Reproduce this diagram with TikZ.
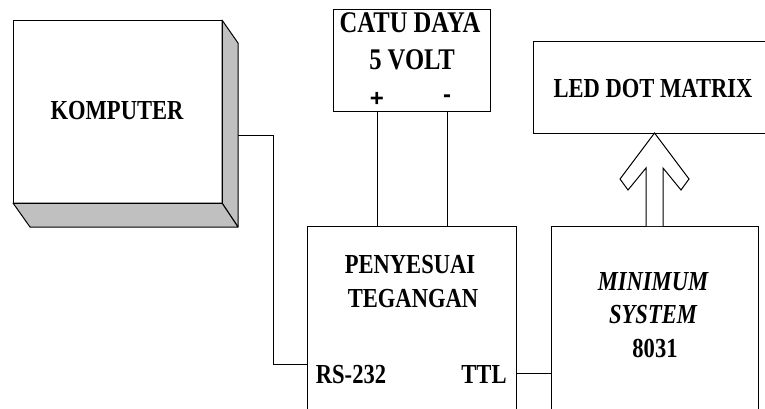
\documentclass[tikz,border=0pt]{standalone}
\usepackage{fontspec}
\setmainfont{Liberation Serif}[FakeStretch=0.82]
\newfontfamily\plusfont{Liberation Sans}
\begin{document}
\begin{tikzpicture}[x=1pt,y=-1pt,
  box/.style={draw,line width=1pt,inner sep=0pt,anchor=north west},
  wire/.style={draw,line width=1pt},
  lbl/.style={anchor=base,inner sep=0pt,font=\fontsize{27.5}{30}\selectfont\bfseries},
  biglbl/.style={anchor=base,inner sep=0pt,font=\fontsize{30}{32}\selectfont\bfseries},
  ilbl/.style={anchor=base,inner sep=0pt,font=\fontsize{27.5}{30}\selectfont\bfseries\itshape},
  sgn/.style={anchor=center,inner sep=0pt,font=\fontsize{24}{26}\selectfont\plusfont\bfseries},
  shade/.style={fill={rgb,255:red,192;green,192;blue,192},draw,line width=1pt,line join=round}]
\useasboundingbox (0,0) rectangle (765,409);
\clip (0,0) rectangle (765,409);
% Komputer 3D box
\path[shade] (222,20) -- (238,43) -- (238,227) -- (222,203) -- cycle;
\path[shade] (13,203) -- (222,203) -- (238,227) -- (30,227) -- cycle;
\node[box,minimum width=209pt,minimum height=183pt] (komp) at (13,20) {};
\node[lbl] (kompt) at (117,120) {KOMPUTER};
\coordinate (kout) at (238,135);
% Catu daya
\node[box,minimum width=157pt,minimum height=102pt] (catu) at (333,9) {};
\node[biglbl] (catu1) at (410,33) {CATU DAYA};
\node[biglbl] (catu2) at (412,70) {5 VOLT};
\node[sgn] (plus) at (377,99) {+};
\node[sgn] (minus) at (447,99) {-};
% LED dot matrix
\node[box,minimum width=250pt,minimum height=92pt] (led) at (533,41) {};
\node[lbl] (ledt) at (653,98) {LED DOT MATRIX};
% Penyesuai tegangan
\node[box,minimum width=209pt,minimum height=200pt] (pen) at (307,226) {};
\node[lbl] (pen1) at (410,273) {PENYESUAI};
\node[lbl] (pen2) at (413,307) {TEGANGAN};
\node[lbl] (rs) at (351,383) {RS-232};
\node[lbl] (ttl) at (484,383) {TTL};
% Minimum system
\node[box,minimum width=207pt,minimum height=200pt] (min) at (551,226) {};
\node[ilbl] (min1) at (653,290) {MINIMUM};
\node[ilbl] (min2) at (653,323) {SYSTEM};
\node[lbl] (min3) at (655,357) {8031};
% connectors
\coordinate (bend) at (273,364);
\draw[wire] (kout) -| (bend) -- (bend -| pen.west);
\draw[wire] (catu.south -| plus) -- (pen.north -| plus);
\draw[wire] (catu.south -| minus) -- (pen.north -| minus);
\coordinate (ttlp) at (516,373);
\draw[wire] (ttlp) -- (ttlp -| min.west);
% hollow arrow
\draw[line width=1pt,line join=miter,fill=white]
  (646,226) -- (646,168) -- (628,190) -- (620,179) -- (654.5,133) -- (689,179) -- (681,190) -- (663,168) -- (663,226);
\end{tikzpicture}
\end{document}
